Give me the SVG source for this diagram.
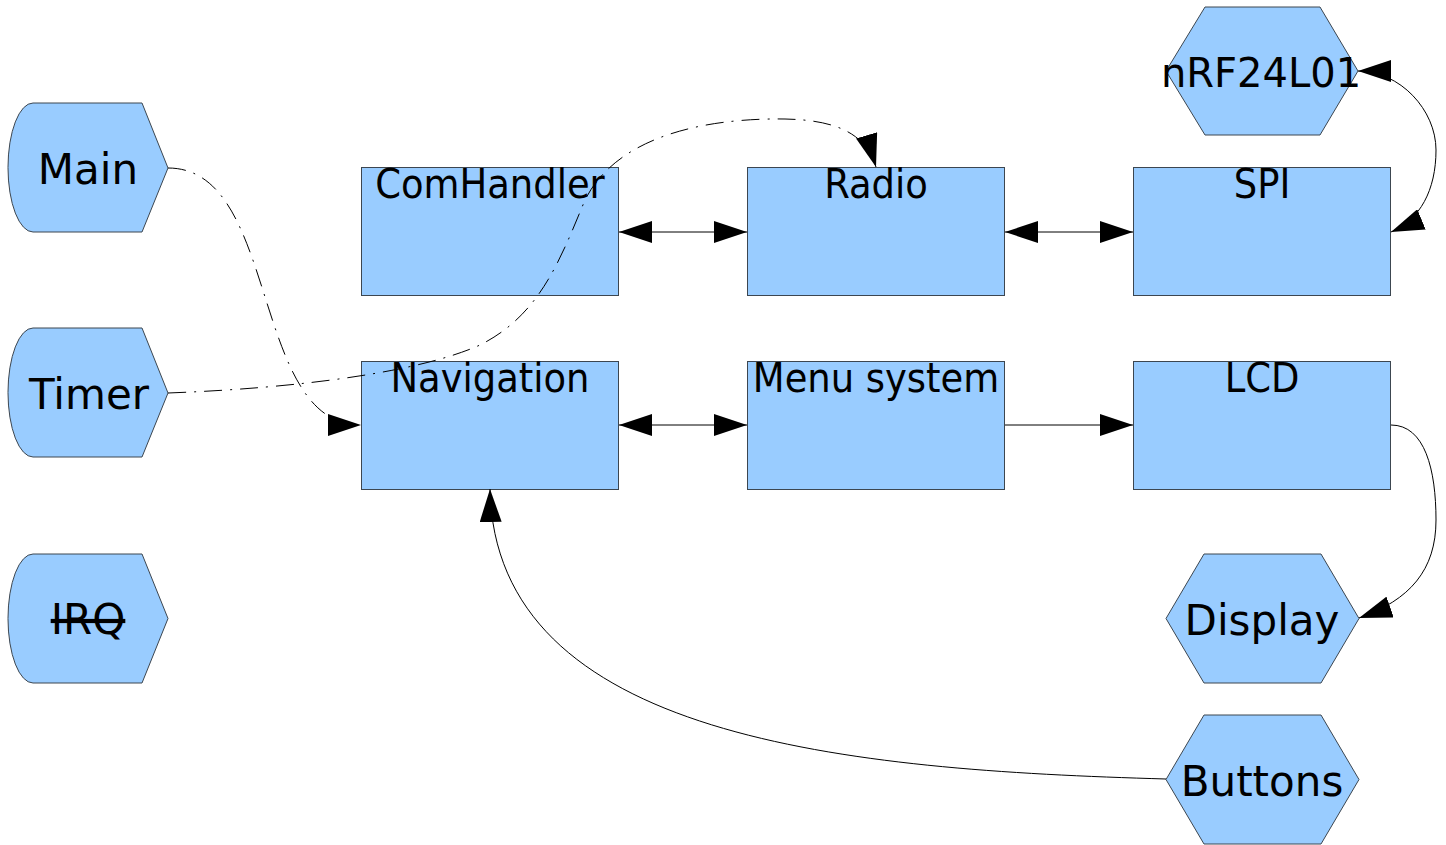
<svg xmlns="http://www.w3.org/2000/svg" width="1446" height="845" viewBox="0 0 1446 845">
  <style>
    .shape { fill: #99ccff; stroke: #3c4650; stroke-width: 1; }
    .lbl { font-family: "DejaVu Sans", "Liberation Sans", sans-serif; fill: #000; text-anchor: middle; }
    .box { font-family: "DejaVu Sans Condensed", "DejaVu Sans", "Liberation Sans Narrow", sans-serif; font-size: 41px; }
    .big { font-size: 42px; }
    .conn { fill: none; stroke: #000; stroke-width: 1; }
    .dashdot { stroke-dasharray: 18 8 2 8; }
  </style>
  <defs>
    <marker id="arrow" viewBox="0 0 33 22" refX="33" refY="11" markerWidth="33" markerHeight="22" markerUnits="userSpaceOnUse" orient="auto-start-reverse">
      <path d="M0,0 L33,11 L0,22 Z" fill="#000"/>
    </marker>
  </defs>
  <rect width="1446" height="845" fill="#fff"/>

  <!-- left-hand entry points -->
  <g id="main">
    <path class="shape" d="M33,103 L142,103 L168,168 L142,232 L33,232 A25,64.5 0 0 1 33,103 Z"/>
    <text class="lbl big" x="88" y="184">Main</text>
  </g>
  <g id="timer">
    <path class="shape" d="M33,328 L142,328 L168,393 L142,457 L33,457 A25,64.5 0 0 1 33,328 Z"/>
    <text class="lbl big" x="89" y="409">Timer</text>
  </g>
  <g id="irq">
    <path class="shape" d="M33,554 L142,554 L168,618.5 L142,683 L33,683 A25,64.5 0 0 1 33,554 Z"/>
    <text class="lbl big" x="88" y="634" text-decoration="line-through">IRQ</text>
  </g>

  <!-- module boxes -->
  <g id="comhandler">
    <rect class="shape" x="361.5" y="167.5" width="257" height="128"/>
    <text class="lbl box" x="490" y="198">ComHandler</text>
  </g>
  <g id="radio">
    <rect class="shape" x="747.5" y="167.5" width="257" height="128"/>
    <text class="lbl box" x="876" y="198">Radio</text>
  </g>
  <g id="spi">
    <rect class="shape" x="1133.5" y="167.5" width="257" height="128"/>
    <text class="lbl box" x="1262" y="198">SPI</text>
  </g>
  <g id="navigation">
    <rect class="shape" x="361.5" y="361.5" width="257" height="128"/>
    <text class="lbl box" x="490" y="392">Navigation</text>
  </g>
  <g id="menu-system">
    <rect class="shape" x="747.5" y="361.5" width="257" height="128"/>
    <text class="lbl box" x="876" y="392">Menu system</text>
  </g>
  <g id="lcd">
    <rect class="shape" x="1133.5" y="361.5" width="257" height="128"/>
    <text class="lbl box" x="1262" y="392">LCD</text>
  </g>

  <!-- hardware -->
  <g id="nrf24l01">
    <polygon class="shape" points="1205,7 1320,7 1358,71 1320,135 1205,135 1166,71"/>
    <text class="lbl" x="1261" y="87" font-size="40">nRF24L01</text>
  </g>
  <g id="display">
    <polygon class="shape" points="1204,554 1321,554 1359,618.5 1321,683 1204,683 1166,618.5"/>
    <text class="lbl big" x="1262" y="635">Display</text>
  </g>
  <g id="buttons">
    <polygon class="shape" points="1204,715 1321,715 1359,779.5 1321,844 1204,844 1166,779.5"/>
    <text class="lbl big" x="1262" y="796">Buttons</text>
  </g>

  <!-- connectors -->
  <g id="connectors">
    <line class="conn" x1="619" y1="232" x2="747" y2="232" marker-start="url(#arrow)" marker-end="url(#arrow)"/>
    <line class="conn" x1="1005" y1="232" x2="1133" y2="232" marker-start="url(#arrow)" marker-end="url(#arrow)"/>
    <line class="conn" x1="619" y1="425" x2="747" y2="425" marker-start="url(#arrow)" marker-end="url(#arrow)"/>
    <line class="conn" x1="1005" y1="425" x2="1133" y2="425" marker-end="url(#arrow)"/>
    <path class="conn" d="M1358,71 C1400,71 1436,110 1436,150 C1436,190 1420,220 1391,232" marker-start="url(#arrow)" marker-end="url(#arrow)"/>
    <path class="conn" d="M1391,425 C1425,425 1436,470 1436,520 C1436,570 1410,600 1359,618" marker-end="url(#arrow)"/>
    <path class="conn" d="M1166,779 C850,770 495,740 490,489" marker-end="url(#arrow)"/>
    <path class="conn dashdot" d="M168,168 C280,168 250,425 361,425" marker-end="url(#arrow)"/>
    <path class="conn dashdot" d="M168,393 C300,388 420,372 480,345 C540,315 560,260 585,200 C620,130 720,118 785,119 C830,120 865,130 876,167" marker-end="url(#arrow)"/>
  </g>
</svg>
